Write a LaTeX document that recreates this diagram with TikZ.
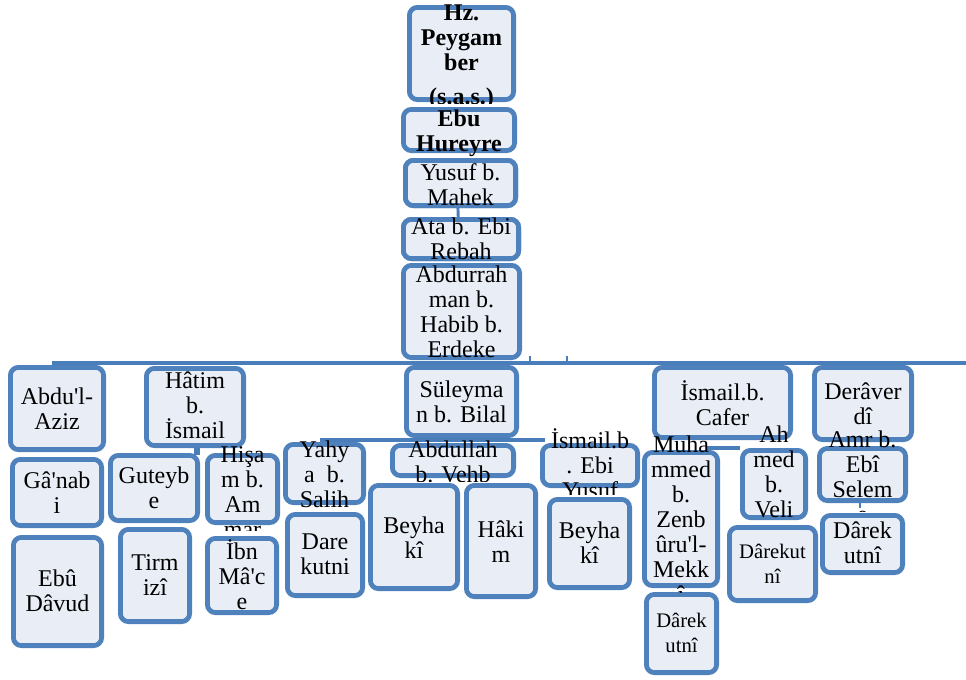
\documentclass[tikz,border=0pt]{standalone}
\usepackage{fontspec}
\setmainfont{Liberation Serif}
\definecolor{bord}{RGB}{79,129,189}
\definecolor{boxfill}{RGB}{233,238,246}
\definecolor{linec}{RGB}{74,126,187}
\newcommand\ap{\textquotesingle}
\newcommand\smallfnt{\fontsize{15.5pt}{18.75pt}\selectfont}
\tikzset{
  hbox/.style={draw=bord, fill=boxfill, line width=3.6pt, rounded corners=6pt, inner sep=0pt, outer sep=0pt},
  conn/.style={draw=linec, line width=3pt},
  lbl/.style={anchor=base, inner sep=0pt, font=\fontsize{18pt}{18.75pt}\selectfont},
}
% box: name x1 y1 x2 y2 (outer edges, pixels)
\newcommand\bx[5]{%
  \node[hbox, minimum width={(#4-#2-4.8)*0.75pt}, minimum height={(#5-#3-4.8)*0.75pt}]
    (#1) at ({(#2+#4)/2},{(#3+#5)/2}) {};}
% text: [font] name baseline clipbottom text
\newcommand\tx[5][]{%
  \begin{scope}
    \clip (0,0) rectangle (966,#4);
    \node[lbl] (#2t) at (#2.center |- 0,#3)
      {\parbox[t]{150pt}{\lineskiplimit=-30pt\lineskip=0pt\centering #1#5}};
  \end{scope}}
\begin{document}
\begin{tikzpicture}[x=0.75pt,y=-0.75pt]
\fill[white] (0,0) rectangle (966,679);
\useasboundingbox (0,0) rectangle (966,679);
% connectors (under the boxes)
\coordinate (L1a) at (52,362.5);
\coordinate (L1b) at (966,362.5);
\coordinate (L2a) at (320,440);
\coordinate (L2b) at (545,440);
\coordinate (T1a) at (530,355.5);
\coordinate (T1b) at (530,362);
\coordinate (T2a) at (567,355.5);
\coordinate (T2b) at (567,362);
\coordinate (H1a) at (197,445);
\coordinate (H1b) at (197,455);
\coordinate (C1a) at (707,447.5);
\coordinate (C1b) at (740,447.5);
\coordinate (A1a) at (860,500);
\coordinate (A1b) at (860,508);
\draw[conn] (L1a) -- (L1b);
\draw[conn] (L2a) -- (L2b);
\draw[conn, line width=2pt] (T1a) -- (T1b);
\draw[conn, line width=2pt] (T2a) -- (T2b);
\draw[conn, line width=4pt] (H1a) -- (H1b);
\draw[conn] (C1a) -- (C1b);
\draw[conn, line width=2.2pt] (A1a) -- (A1b);
% boxes
\bx{hz}{407}{5}{516}{102}
\bx{ebu}{401}{107}{517}{153}
\bx{yus}{403}{158}{518}{208}
\bx{ata}{401}{217}{521}{261}
\draw[conn, line width=2.2pt] ([xshift=-2pt]yus.south) -- ([xshift=-2pt]ata.north);
\bx{yus}{403}{158}{518}{208}
\bx{ata}{401}{217}{521}{261}
\bx{abd}{401}{263}{522}{360}
\bx{sul}{404}{365}{519}{438}
\bx{aziz}{8}{365}{106}{452}
\bx{hatim}{144}{366}{246}{448}
\bx{ganabi}{10}{457}{104}{528}
\bx{guteybe}{108}{453}{200}{523}
\bx{hisam}{205}{453}{280}{525}
\bx{davud}{11}{535}{104}{648}
\bx{tirmizi}{118}{527}{192}{624}
\bx{ibnmace}{205}{536}{279}{615}
\bx{yahya}{283}{442}{366}{505}
\bx{dare}{285}{512}{365}{598}
\bx{vehb}{390}{443}{516}{478}
\bx{beyA}{368}{483}{460}{591}
\bx{hakim}{464}{483}{538}{599}
\bx{ebiyusuf}{540}{443}{640}{488}
\bx{beyB}{547}{497}{632}{590}
\bx{muh}{642}{450}{720}{588}
\bx{darekM}{644}{592}{719}{675}
\bx{cafer}{652}{365}{793}{440}
\bx{ahmed}{740}{448}{808}{520}
\bx{darekA}{727}{525}{818}{603}
\bx{derav}{812}{365}{914}{442}
\bx{amr}{817}{446}{908}{503}
\bx{darekR}{820}{513}{905}{575}
% texts
\tx[\bfseries]{hz}{20.5}{103}{Hz.\\Peygam\\ber\\[7pt](s.a.s.)}
\tx[\bfseries]{ebu}{126}{156}{Ebu\\Hureyre}
\tx{yus}{180}{212}{Yusuf b.\\Mahek}
\tx{ata}{234}{264}{Ata b. Ebi\\Rebah}
\tx{abd}{282}{364}{Abdurrah\\man b.\\Habib b.\\Erdeke}
\tx{sul}{397}{441}{Süleyma\\n b. Bilal}
\tx{aziz}{404}{455}{Abdu\ap l-\\Aziz}
\tx{hatim}{388}{451}{Hâtim\\b.\\İsmail}
\tx{ganabi}{488}{531}{Gâ\ap nab\\i}
\tx{guteybe}{483}{526}{Guteyb\\e}
\tx{hisam}{462}{530}{Hişa\\m b.\\Am\\mar}
\tx{davud}{586}{651}{Ebû\\Dâvud}
\tx{tirmizi}{570}{627}{Tirm\\izî}
\tx{ibnmace}{559}{618}{İbn\\Mâ\ap c\\e}
\tx{yahya}{457}{508}{Yahy\\a\ \ b.\\Salih}
\tx{dare}{549}{601}{Dare\\kutni}
\tx{vehb}{457}{481}{Abdullah\\b. Vehb}
\tx{beyA}{533}{594}{Beyha\\kî}
\tx{hakim}{537}{602}{Hâki\\m}
\tx{ebiyusuf}{448}{494}{İsmail.b\\. Ebi\\Yusuf}
\tx{beyB}{538}{593}{Beyha\\kî}
\tx{muh}{452}{592}{Muha\\mmed\\b.\\Zenb\\ûru\ap l-\\Mekk\\î}
\tx[\smallfnt]{darekM}{627}{678}{Dârek\\utnî}
\tx{cafer}{400}{443}{İsmail.b.\\Cafer}
\tx{ahmed}{442}{523}{Ah\\med\\b.\\Veli}
\tx[\smallfnt]{darekA}{558}{606}{Dârekut\\nî}
\tx{derav}{399}{445}{Derâver\\dî}
\tx{amr}{447}{511}{Amr b.\\Ebî\\Selem\\e}
\tx{darekR}{538}{578}{Dârek\\utnî}
\end{tikzpicture}
\end{document}
